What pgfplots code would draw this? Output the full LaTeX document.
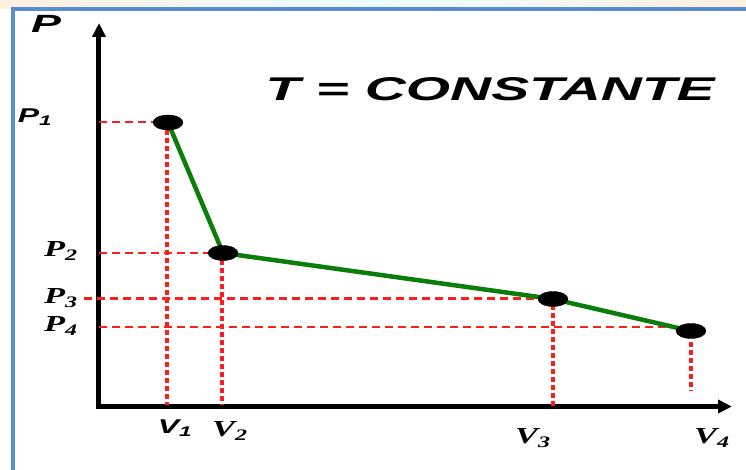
\documentclass[border=0pt]{standalone}
\usepackage{pgfplots}
\pgfplotsset{compat=1.18}
\usetikzlibrary{arrows.meta,backgrounds}
\usepackage{fontspec}
\setmainfont{Liberation Serif}
\newfontfamily\arial{Liberation Sans}
\definecolor{frameblue}{RGB}{90,140,210}
\definecolor{linegreen}{RGB}{10,125,10}
\definecolor{dashred}{RGB}{250,30,30}
\begin{document}
\begin{tikzpicture}
\begin{axis}[
  x=1bp, y=1bp,
  xmin=99, xmax=732, ymin=63.5, ymax=447,
  axis x line=bottom, axis y line=left,
  xtick=\empty, ytick=\empty,
  axis line style={line width=5bp, line cap=rect, -{Triangle[length=14bp,width=13bp]}},
  clip=false,
]
\coordinate (c00) at (axis cs:0,0);
\coordinate (c11) at (axis cs:746,470);
\coordinate (ftop) at (axis cs:746,461);
\coordinate (fleft) at (axis cs:13,0);
\coordinate (fcorner) at (axis cs:13,461);
\coordinate (bandl) at (axis cs:0,461);
% horizontal dashed guides
\addplot[dashred, line width=2.4bp, dash pattern=on 8bp off 5bp] coordinates {(99,348) (153,348)};
\addplot[dashred, line width=2.4bp, dash pattern=on 8bp off 5bp] coordinates {(99,217) (210,217)};
\addplot[dashred, line width=2.4bp, dash pattern=on 8bp off 5bp] coordinates {(84,171.5) (540,171.5)};
\addplot[dashred, line width=2.4bp, dash pattern=on 8bp off 5bp] coordinates {(99,143) (676,143)};
% vertical dotted guides
\addplot[dashred, line width=3.2bp, dash pattern=on 5bp off 3bp] coordinates {(167,340) (167,65)};
\addplot[dashred, line width=3.2bp, dash pattern=on 5bp off 3bp] coordinates {(222,210) (222,65)};
\addplot[dashred, line width=3.2bp, dash pattern=on 5bp off 3bp] coordinates {(553,165) (553,64)};
\addplot[dashred, line width=3.2bp, dash pattern=on 5bp off 3bp] coordinates {(691,128) (691,79)};
% isotherm
\addplot[linegreen, line width=4.5bp, line join=round] coordinates {(168,347.5) (223,217) (553,171) (691,139)};
\addplot[only marks, mark=*, mark size=7.5bp, mark options={xscale=2, fill=black, draw=black}] coordinates {(168,347.5) (223,217) (553,171) (691,139)};
% labels
\node[xscale=1.8] at (axis cs:46,446) {\arial\fontsize{25}{25}\selectfont\bfseries\itshape P};
\node[xscale=1.73] at (axis cs:490,381) {\arial\fontsize{33}{33}\selectfont\bfseries\itshape T = CONSTANTE};
\node[xscale=1.6] at (axis cs:35,353) {\arial\fontsize{20}{20}\selectfont\bfseries\itshape P\textsubscript{1}};
\node[xscale=1.5] at (axis cs:61,219) {\fontsize{23}{23}\selectfont\bfseries\itshape P\textsubscript{2}};
\node[xscale=1.5] at (axis cs:61,172) {\fontsize{23}{23}\selectfont\bfseries\itshape P\textsubscript{3}};
\node[xscale=1.5] at (axis cs:61,144) {\fontsize{23}{23}\selectfont\bfseries\itshape P\textsubscript{4}};
\node[xscale=1.6] at (axis cs:175,42) {\arial\fontsize{20}{20}\selectfont\bfseries\itshape V\textsubscript{1}};
\node[xscale=1.5] at (axis cs:230,39) {\fontsize{23}{23}\selectfont\bfseries\itshape V\textsubscript{2}};
\node[xscale=1.5] at (axis cs:533,32) {\fontsize{23}{23}\selectfont\bfseries\itshape V\textsubscript{3}};
\node[xscale=1.5] at (axis cs:712,32) {\fontsize{23}{23}\selectfont\bfseries\itshape V\textsubscript{4}};
\end{axis}
\begin{scope}[on background layer]
\path[use as bounding box] (c00) rectangle (c11);
\shade[left color=orange!12, right color=orange!12, middle color=cyan!8] (bandl) rectangle (c11);
\fill[white] (fleft) rectangle (ftop);
\draw[frameblue, line width=4bp] (fleft) -- (fcorner) -- (ftop);
\end{scope}
\end{tikzpicture}
\end{document}
